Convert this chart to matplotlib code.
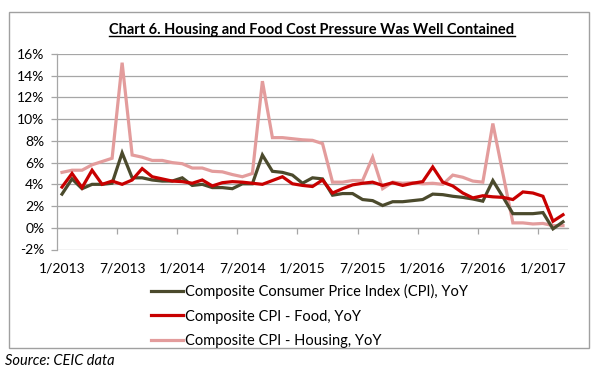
import matplotlib
matplotlib.use("Agg")
import matplotlib.pyplot as plt
import numpy as np
from matplotlib.lines import Line2D
from matplotlib.patches import Rectangle

plt.rcParams['font.family'] = ['Lato', 'DejaVu Sans']

months = ["1/2013", "7/2013", "1/2014", "7/2014", "1/2015", "7/2015", "1/2016", "7/2016", "1/2017"]

cpi = [3.1, 4.5, 3.6, 4.0, 4.0, 4.1, 6.9, 4.6, 4.6, 4.4, 4.3, 4.3,
       4.6, 3.9, 4.0, 3.7, 3.7, 3.6, 4.05, 4.05, 6.7, 5.2, 5.1, 4.85,
       4.1, 4.6, 4.5, 3.0, 3.15, 3.15, 2.6, 2.5, 2.05, 2.4, 2.4, 2.5,
       2.6, 3.1, 3.05, 2.9, 2.8, 2.65, 2.45, 4.35, 2.85, 1.3, 1.3, 1.3,
       1.4, -0.1, 0.55]

food = [3.75, 5.0, 3.7, 5.3, 4.0, 4.3, 4.0, 4.4, 5.45, 4.7, 4.5, 4.3,
        4.25, 4.1, 4.4, 3.85, 4.15, 4.25, 4.2, 4.1, 4.0, 4.35, 4.7, 4.05,
        3.9, 3.8, 4.4, 3.2, 3.6, 3.95, 4.1, 4.2, 3.9, 4.15, 3.9, 4.1,
        4.25, 5.6, 4.2, 3.85, 3.2, 2.75, 2.95, 2.85, 2.8, 2.6, 3.3, 3.2,
        2.9, 0.6, 1.2]

housing = [5.1, 5.3, 5.3, 5.8, 6.1, 6.4, 15.2, 6.7, 6.5, 6.2, 6.2, 6.0,
           5.9, 5.5, 5.5, 5.2, 5.15, 4.9, 4.7, 5.0, 13.5, 8.3, 8.3, 8.2,
           8.1, 8.05, 7.75, 4.2, 4.2, 4.35, 4.35, 6.5, 3.6, 4.2, 4.1, 4.15,
           4.05, 4.1, 4.0, 4.85, 4.65, 4.3, 4.2, 9.6, 5.0, 0.45, 0.45, 0.35,
           0.4, 0.2, 0.2]

labels = ["Composite Consumer Price Index (CPI), YoY",
          "Composite CPI - Food, YoY",
          "Composite CPI - Housing, YoY"]
colors = ["#4b4a2c", "#c80000", "#e39c9c"]

n = len(cpi)
x = np.arange(n)

fig = plt.figure(figsize=(6, 3.75), dpi=100)
W, H = 600, 375
ax = fig.add_axes([57 / W, 1 - 249.5 / H, (568 - 57) / W, (249.5 - 54) / H])

grid_c = "#a6a6a6"
lines = []
for vals, c, lab, z in zip([cpi, food, housing], colors, labels, [4, 5, 3]):
    ln, = ax.plot(x, vals, color=c, lw=2.3, label=lab, zorder=z, solid_joinstyle='miter')
    lines.append(ln)

ax.set_xlim(-0.5, n - 0.5)
ax.set_ylim(-2, 16)
yt = np.arange(-2, 17, 2)
ax.set_yticks(yt)
ax.set_yticklabels([f"{v}%" for v in yt], fontsize=10)
ax.yaxis.grid(True, color=grid_c, lw=0.9)
ax.set_axisbelow(True)

centers = np.arange(0, n, 6)
ax.set_xticks(centers)
ax.set_xticklabels(months, fontsize=10)
bounds = np.arange(5.5, n - 0.5, 6)
ax.set_xticks(bounds, minor=True)
ax.tick_params(axis='x', which='major', length=0, pad=25)
ax.tick_params(axis='x', which='minor', length=4, color=grid_c, width=0.9, direction='out')
ax.tick_params(axis='y', length=4, color=grid_c, width=0.9, pad=5)

for s in ['top', 'right']:
    ax.spines[s].set_visible(False)
ax.spines['bottom'].set_position(('data', 0))
ax.spines['bottom'].set_color(grid_c)
ax.spines['left'].set_color(grid_c)
ax.spines['bottom'].set_linewidth(0.9)
ax.spines['left'].set_linewidth(0.9)

leg = fig.legend(handles=lines, loc='upper left', bbox_to_anchor=(151 / W, 1 - 284 / H),
                 frameon=False, fontsize=10.5, handlelength=2.2, handletextpad=0.15,
                 labelspacing=0.72, borderaxespad=0, borderpad=0)

title = fig.text(312 / W, 1 - 30 / H, "Chart 6. Housing and Food Cost Pressure Was Well Contained",
                 ha='center', va='center', fontsize=10.5, fontweight='bold')
fig.text(5 / W, 1 - 361 / H, "Source: CEIC data", ha='left', va='center',
         fontsize=10.5, style='italic')

fig.patches.append(Rectangle((9 / W, 1 - 348 / H), (589 - 9) / W, (348 - 12) / H,
                             transform=fig.transFigure, fill=False, ec="#a0a0a0", lw=1.0))

fig.canvas.draw()
bb = title.get_window_extent()
inv = fig.transFigure.inverted()
(x0, y0), (x1, y1) = inv.transform([(bb.x0, bb.y0), (bb.x1, bb.y0)])
fig.add_artist(Line2D([x0, x1], [y0 + 0.002, y0 + 0.002], transform=fig.transFigure,
                      color='black', lw=1.0))

fig.savefig("out.png", dpi=100)
